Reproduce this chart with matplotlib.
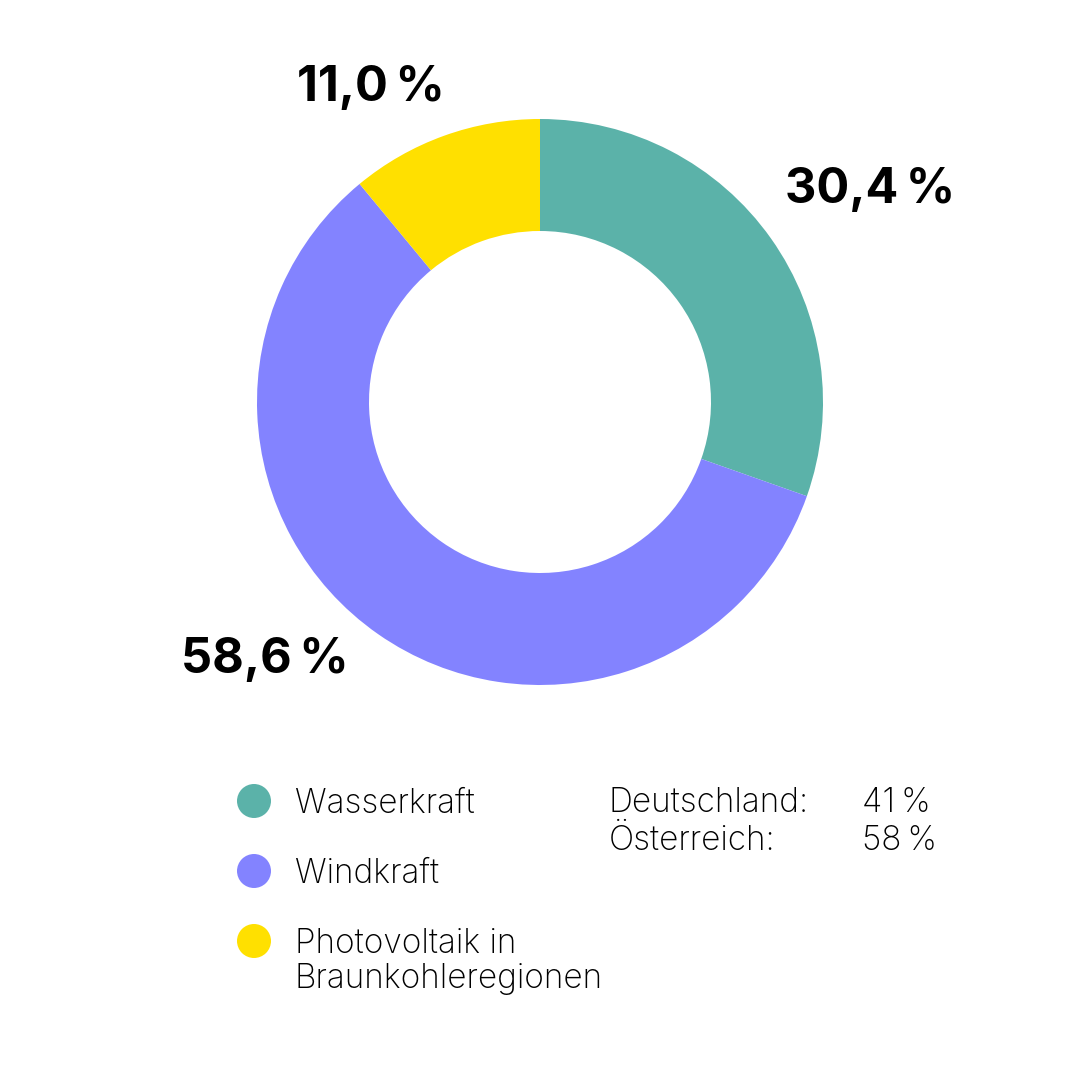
import matplotlib.pyplot as plt
from matplotlib.patches import Circle

plt.rcParams["font.family"] = ["Inter", "DejaVu Sans"]

# data
categories = ["Wasserkraft", "Windkraft", "Photovoltaik in\nBraunkohleregionen"]
shares = [30.4, 58.6, 11.0]
share_labels = ["30,4\u2009%", "58,6\u2009%", "11,0\u2009%"]
colors = ["#5BB2A9", "#8383FF", "#FFE000"]
countries = ["Deutschland:", "Österreich:"]
country_values = ["41\u2009%", "58\u2009%"]

H = 1080
fig = plt.figure(figsize=(10.8, 10.8), dpi=100)
ax = fig.add_axes([0, 0, 1, 1])

# donut
ax.pie(shares, colors=colors, startangle=90, counterclock=False,
       center=(540, H - 402), radius=283,
       wedgeprops=dict(width=112, linewidth=0))
ax.set_xlim(0, 1080)
ax.set_ylim(0, H)
ax.set_aspect("equal")
ax.axis("off")

# share labels
label_pos = [(785, 203), (181, 673), (297, 101)]
for (x, y), txt in zip(label_pos, share_labels):
    ax.text(x, H - y, txt, fontsize=35, fontweight="bold", ha="left", va="baseline")

# legend
legend_y = [801, 871, 941]
for y, c, name in zip(legend_y, colors, categories):
    ax.add_patch(Circle((254, H - y), 17, color=c, lw=0))
    lines = name.split("\n")
    for j, line in enumerate(lines):
        ax.text(295, H - y - 12 - j * 35, line,
                fontsize=24, fontweight="light", ha="left", va="baseline")

# country table
for i, (name, val) in enumerate(zip(countries, country_values)):
    y = 812 + i * 38
    ax.text(609, H - y, name, fontsize=24, fontweight="light", ha="left", va="baseline")
    ax.text(862, H - y, val, fontsize=24, fontweight="light", ha="left", va="baseline")

fig.savefig("out.png", dpi=100, facecolor="white")
